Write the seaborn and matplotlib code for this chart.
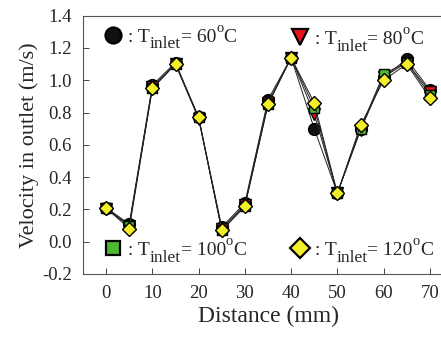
import matplotlib
matplotlib.use("Agg")
import matplotlib.pyplot as plt
import seaborn as sns
import pandas as pd

distance = [0, 5, 10, 15, 20, 25, 30, 35, 40, 45, 50, 55, 60, 65, 70]
v_60 = [0.21, 0.11, 0.97, 1.11, 0.77, 0.09, 0.24, 0.88, 1.14, 0.70, 0.30, 0.70, 1.02, 1.13, 0.94]
v_80 = [0.20, 0.10, 0.96, 1.10, 0.76, 0.08, 0.23, 0.86, 1.14, 0.79, 0.30, 0.69, 1.02, 1.11, 0.93]
v_100 = [0.21, 0.10, 0.95, 1.10, 0.77, 0.07, 0.22, 0.85, 1.14, 0.83, 0.30, 0.70, 1.04, 1.11, 0.91]
v_120 = [0.21, 0.08, 0.95, 1.10, 0.77, 0.07, 0.22, 0.85, 1.14, 0.86, 0.30, 0.72, 1.00, 1.10, 0.89]

series = [
    ("60", v_60, "o", "#111111", 8.5),
    ("80", v_80, "v", "#e8141c", 8.5),
    ("100", v_100, "s", "#4cb833", 7.5),
    ("120", v_120, "D", "#f2ee2a", 7),
]

sns.set_style("ticks")
plt.rcParams['font.family'] = ['Liberation Serif', 'DejaVu Serif']

fig = plt.figure(figsize=(4.41, 3.39), dpi=100)
ax = fig.add_axes([83 / 441, 1 - 274 / 339, 370 / 441, 258.3 / 339])

for temp, vals, mk, col, ms in series:
    df = pd.DataFrame({"Distance": distance, "Velocity": vals})
    sns.lineplot(data=df, x="Distance", y="Velocity", ax=ax, color="#222222", lw=0.7,
                 marker=mk, markersize=ms, markerfacecolor=col,
                 markeredgecolor="black", markeredgewidth=1.0)

ax.set_xlim(-5, 75)
ax.set_ylim(-0.2, 1.4)
ax.set_xticks(range(0, 71, 10))
ax.set_yticks([-0.2, 0.0, 0.2, 0.4, 0.6, 0.8, 1.0, 1.2, 1.4])
ax.set_yticklabels(["-0.2", "0.0", "0.2", "0.4", "0.6", "0.8", "1.0", "1.2", "1.4"])
ax.tick_params(direction="in", length=4, labelsize=13.5, width=0.6, pad=8)
for s in ax.spines.values():
    s.set_linewidth(0.8)
    s.set_color("#555555")
ax.set_xlabel("Distance (mm)", fontsize=17, labelpad=3)
ax.set_ylabel("Velocity in outlet (m/s)", fontsize=16, labelpad=2)

renderer = fig.canvas.get_renderer()


def rich_label(x, y, pieces):
    # pieces: (text, fontsize, vertical offset in points)
    dx = 0.0
    for txt, fs, dy in pieces:
        t = ax.annotate(txt, xy=(x, y), xycoords="axes fraction",
                        xytext=(dx, dy), textcoords="offset points",
                        fontsize=fs, va="baseline", ha="left")
        w = t.get_window_extent(renderer).width
        dx += w * 72.0 / fig.dpi


# in-plot legend entries
legend_pos = [(0.081, 0.925), (0.586, 0.917), (0.081, 0.10), (0.586, 0.10)]
for (temp, vals, mk, col, ms), (lx, ly) in zip(series, legend_pos):
    ax.plot([lx], [ly], transform=ax.transAxes, marker=mk, markersize=ms + 3,
            markerfacecolor=col, markeredgecolor="black", markeredgewidth=1.6,
            linestyle="none", clip_on=False)
    rich_label(lx + 0.04, ly - 0.025, [
        (": T", 14, 0),
        ("inlet", 12.5, -5),
        ("= " + temp, 14, 0),
        ("o", 10.5, 7),
        ("C", 14, 0),
    ])

fig.savefig("out.png", dpi=100)
